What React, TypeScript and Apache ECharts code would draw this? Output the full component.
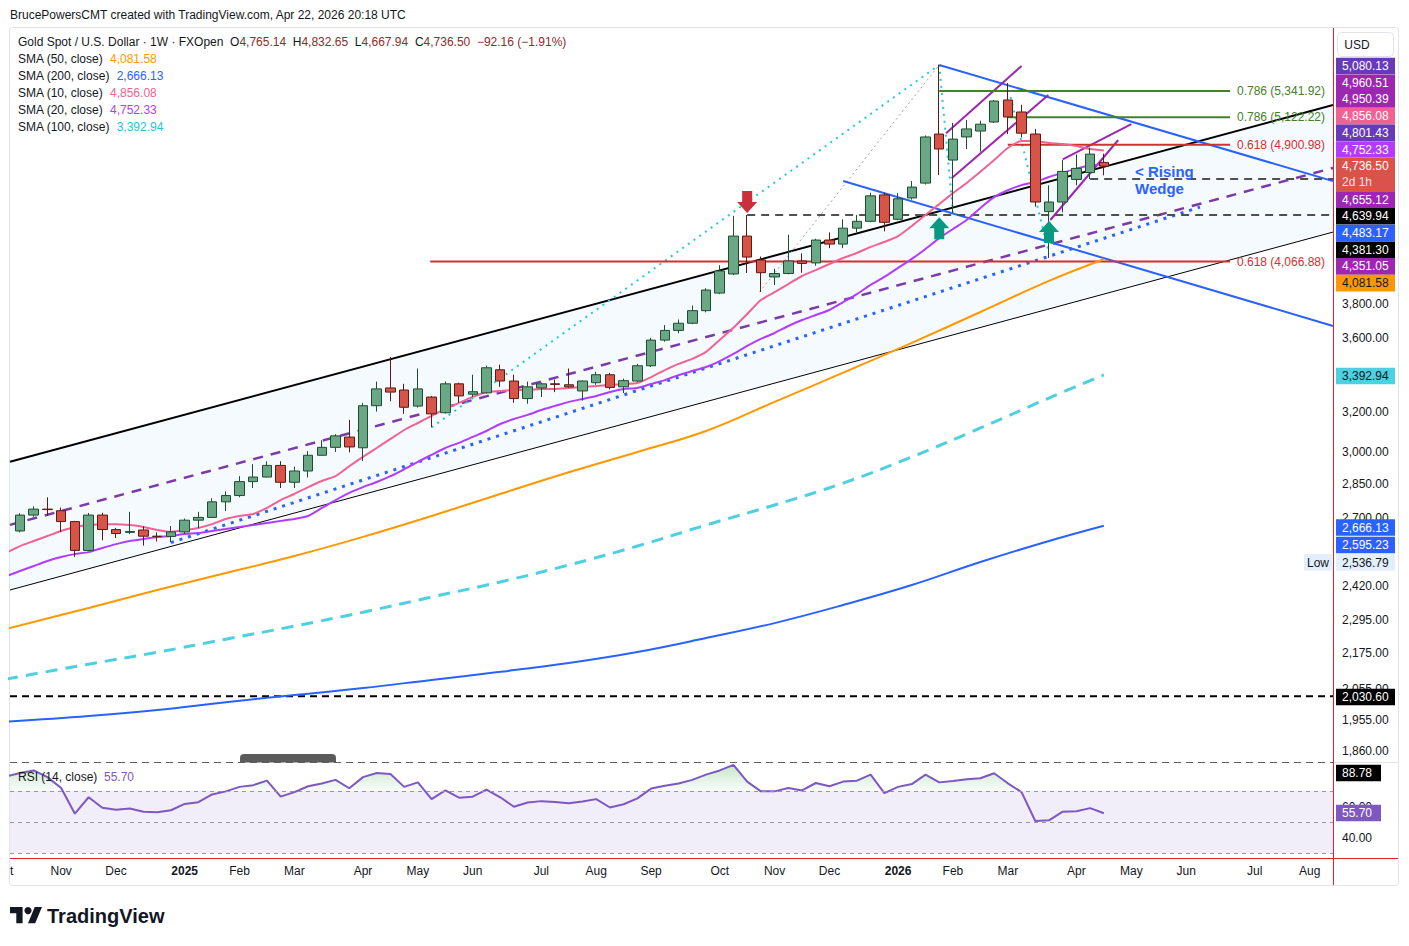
import React, { useEffect, useRef } from "react";
import * as echarts from "echarts";

const FF = '"Liberation Sans", Arial, sans-serif';
const INK = "#131722";

// ---------------- axis extents ----------------
const XMIN = -0.729; // week index at left plot edge
const XMAX = 95.7; // week index at right plot edge
const PMIN = 1827.7;
const PMAX = 5907;
const RMIN = 26.8;
const RMAX = 88.75;

// ---------------- weekly candles: week 0 = 14 Oct 2024 ... week 79 = 20 Apr 2026 ----------------
// [open, high, low, close]
const ohlc: number[][] = [
  [2644, 2720, 2638, 2712], [2712, 2750, 2705, 2738], [2738, 2790, 2710, 2736], [2731, 2745, 2640, 2684],
  [2684, 2687, 2536.79, 2563], [2563, 2721, 2560, 2712], [2712, 2722, 2605, 2650], [2650, 2657, 2614, 2633],
  [2638, 2726, 2631, 2642], [2648, 2664, 2583, 2622], [2622, 2638, 2600, 2621], [2621, 2665, 2597, 2640],
  [2640, 2697, 2633, 2690], [2690, 2726, 2656, 2702], [2702, 2786, 2699, 2770], [2770, 2817, 2730, 2798],
  [2798, 2886, 2790, 2861], [2861, 2942, 2832, 2882], [2882, 2955, 2880, 2936], [2936, 2956, 2832, 2858],
  [2858, 2930, 2832, 2910], [2910, 3004, 2880, 2984], [2984, 3057, 2982, 3022], [3022, 3086, 3000, 3078],
  [3072, 3158, 2998, 3024], [3020, 3245, 2957, 3230], [3230, 3357, 3200, 3318], [3323, 3491, 3253, 3301],
  [3312, 3345, 3188, 3222], [3228, 3428, 3220, 3318], [3275, 3281, 3120, 3188], [3194, 3357, 3190, 3345],
  [3345, 3351, 3245, 3281], [3290, 3394, 3276, 3303], [3297, 3443, 3293, 3432], [3421, 3449, 3329, 3360],
  [3360, 3394, 3245, 3267], [3267, 3357, 3240, 3329], [3323, 3351, 3275, 3345], [3345, 3368, 3301, 3342],
  [3340, 3428, 3324, 3329], [3307, 3363, 3256, 3360], [3351, 3410, 3340, 3394], [3394, 3404, 3315, 3326],
  [3329, 3373, 3296, 3362], [3360, 3453, 3355, 3443], [3443, 3600, 3436, 3587], [3587, 3674, 3578, 3643],
  [3643, 3707, 3627, 3685], [3685, 3791, 3680, 3760], [3760, 3897, 3750, 3886], [3867, 4043, 3860, 4006],
  [3987, 4375, 3980, 4236], [4236, 4381.3, 3993, 4096], [4077, 4100, 3874, 3995], [3968, 4020, 3917, 3990],
  [3990, 4245, 3985, 4071], [4071, 4120, 3995, 4055], [4058, 4218, 4040, 4209], [4209, 4261, 4155, 4182],
  [4182, 4351, 4155, 4290], [4290, 4381, 4261, 4337], [4337, 4540, 4330, 4517], [4524, 4540, 4268, 4330],
  [4351, 4537, 4345, 4496], [4502, 4625, 4490, 4581], [4610, 4975, 4600, 4963], [4986, 5568, 4670, 4868],
  [4783, 5075, 4395, 4946], [4963, 5100, 4868, 5027], [5010, 5094, 4848, 5065], [5083, 5265, 5075, 5256],
  [5265, 5410, 4986, 5124], [5165, 5225, 4960, 4993], [4986, 5027, 4440, 4473], [4405, 4594, 4090, 4473],
  [4473, 4783, 4400, 4697], [4637, 4826, 4594, 4720], [4688, 4880, 4640, 4828.66], [4765.14, 4832.65, 4667.94, 4736.5],
];

// moving averages, weekly values starting at week -1
const sma10: number[] = [
  2553, 2581, 2602, 2623, 2644, 2661, 2669, 2673, 2673, 2669, 2661, 2648, 2640, 2648, 2657, 2673, 2695, 2708,
  2717, 2743, 2778, 2805, 2836, 2864, 2886, 2932, 2976, 3019, 3063, 3107, 3142, 3178, 3214, 3245, 3276, 3302,
  3307, 3312, 3312, 3318, 3318, 3323, 3328, 3333, 3339, 3344, 3349, 3381, 3419, 3453, 3481, 3520, 3588, 3658,
  3740, 3824, 3873, 3923, 3974, 4012, 4051, 4090, 4123, 4163, 4196, 4236, 4305, 4381, 4458, 4537, 4611, 4694,
  4783, 4876, 4931, 4931, 4915, 4907, 4892, 4868, 4856.08,
];
const sma20: number[] = [
  2460, 2480, 2500, 2520, 2536, 2548, 2556, 2573, 2589, 2602, 2610, 2619, 2623, 2631, 2635, 2644, 2652, 2661,
  2669, 2678, 2687, 2695, 2708, 2743, 2778, 2810, 2836, 2859, 2886, 2918, 2953, 2986, 3019, 3044, 3073, 3102,
  3137, 3162, 3183, 3208, 3229, 3250, 3265, 3281, 3302, 3318, 3323, 3344, 3365, 3392, 3414, 3436, 3469, 3509,
  3554, 3594, 3628, 3669, 3704, 3734, 3764, 3812, 3861, 3918, 3968, 4026, 4084, 4149, 4222, 4284, 4346, 4431,
  4508, 4558, 4595, 4618, 4655, 4686, 4718, 4741, 4752.33,
];
// [week, value] readings of the slow averages
const sma50: number[][] = [
  [-1, 2261], [5, 2338], [10, 2406], [15, 2472], [20, 2540], [25, 2619], [30, 2708], [35, 2805], [40, 2904],
  [45, 3000], [50, 3102], [55, 3250], [60, 3405], [65, 3571], [70, 3752], [75, 3943], [79, 4081.58],
];
const sma100: number[][] = [
  [-1, 2087], [5, 2137], [10, 2178], [15, 2224], [20, 2271], [25, 2322], [30, 2379], [35, 2437], [40, 2504],
  [45, 2581], [50, 2669], [55, 2756], [60, 2854], [65, 2976], [70, 3117], [75, 3270], [79, 3392.94],
];
const sma200: number[][] = [
  [-1, 1949], [5, 1967], [10, 1986], [15, 2011], [20, 2034], [25, 2057], [30, 2084], [35, 2111], [40, 2141],
  [45, 2179], [50, 2228], [55, 2282], [60, 2349], [65, 2425], [70, 2516], [75, 2602], [79, 2666.13],
];
// RSI(14), weekly values starting at week -1
const rsi14: number[] = [
  79.5, 81.7, 83.3, 79.0, 72.0, 55.4, 66.0, 59.2, 57.9, 58.8, 56.7, 56.3, 57.6, 61.7, 62.8, 67.8, 69.8, 72.7,
  73.8, 76.7, 66.4, 69.3, 73.1, 74.9, 77.2, 71.8, 79.0, 81.7, 81.0, 72.7, 75.6, 64.8, 70.4, 65.7, 66.4, 70.9,
  66.0, 59.9, 62.6, 63.5, 63.0, 62.1, 63.3, 64.8, 59.4, 61.5, 65.3, 71.6, 73.4, 74.9, 77.2, 80.6, 83.3, 86.9,
  76.1, 69.8, 69.8, 72.0, 70.4, 75.2, 73.1, 76.1, 76.7, 80.6, 68.7, 72.7, 74.5, 80.6, 75.6, 76.5, 77.6, 78.3,
  81.5, 75.0, 69.3, 50.7, 51.1, 56.7, 57.0, 59.0, 55.7,
];

// time-axis labels: [week index, label]
const monthLabels: [number, string][] = [
  [3, "Nov"], [7, "Dec"], [12, "2025"], [16, "Feb"], [20, "Mar"], [25, "Apr"], [29, "May"], [33, "Jun"],
  [38, "Jul"], [42, "Aug"], [46, "Sep"], [51, "Oct"], [55, "Nov"], [59, "Dec"], [64, "2026"], [68, "Feb"],
  [72, "Mar"], [77, "Apr"], [81, "May"], [85, "Jun"], [90, "Jul"], [94, "Aug"],
];
const priceTicks = [3800, 3600, 3200, 3000, 2850, 2700, 2420, 2295, 2175, 2055, 1955, 1860];
const rsiTicks = [60, 40];
const RSI_OB = 70;

// drawn trend lines, in [week, price] coordinates
const channelUpper = [[XMIN, 2953], [XMAX, 5223]];
const channelMid = [[XMIN, 2670], [XMAX, 4723]];
const channelLower = [[XMIN, 2406], [XMAX, 4263]];
const blueDotted = [[11, 2595.23], [86, 4437]];
const cyanDotted = [
  [[30, 3120], [67, 5568]],
  [[67, 5568], [68, 4400]],
  [[72.2, 5290], [75, 4120]],
];
const greyDotted = [[53.9, 3873], [67, 5568]];
const blueUpper = [[67, 5568], [XMAX, 4625]];
const blueLower = [[60, 4626], [XMAX, 3669]];
const wedgeLines = [
  [[67.5, 4992], [73, 5559]],
  [[67.9, 4646], [74.95, 5307]],
  [[76, 4788], [81, 5066]],
  [[75.1, 4346], [80.05, 4939]],
];
// horizontal levels: [price, from week, to week]
const fibGreen = [[5341.92, 67, 88.2], [5122.22, 72, 88.2]];
const fibRed = [[4900.98, 72, 88.2], [4066.88, 29.9, 88.2]];
const dashedLevels = [[4381.3, 53, XMAX], [4639.94, 78, XMAX]];
const blackDashed = [[2030.6, XMIN, XMAX]];
const fibTexts: [number, string, string][] = [
  [5341.92, "0.786 (5,341.92)", "g"],
  [5122.22, "0.786 (5,122.22)", "g"],
  [4900.98, "0.618 (4,900.98)", "r"],
  [4066.88, "0.618 (4,066.88)", "r"],
];
// arrows: [week, price, direction]
const arrows = [[53, 4473, -1], [67, 4290, 1], [75, 4263, 1]];

// right-scale badges (stacked like the original scale)
const topBadges: [string, string, string][] = [
  ["5,080.13", "#673ab7", "#ffffff"],
  ["4,960.51", "#9c27b0", "#ffffff"],
  ["4,950.39", "#9c27b0", "#ffffff"],
  ["4,856.08", "#f06292", "#ffffff"],
  ["4,801.43", "#673ab7", "#ffffff"],
  ["4,752.33", "#b23cfd", "#ffffff"],
  ["4,736.50", "#d9534a", "#ffffff"],
  ["4,655.12", "#9c27b0", "#ffffff"],
  ["4,639.94", "#000000", "#ffffff"],
  ["4,483.17", "#2962ff", "#ffffff"],
  ["4,381.30", "#000000", "#ffffff"],
  ["4,351.05", "#9c27b0", "#ffffff"],
  ["4,081.58", "#ff9800", "#131722"],
];

echarts.graphic.registerShape(
  "tvlogo",
  echarts.graphic.extendPath("M14 22H7V11H0V4h14v18zM28 22h-8l7.5-18h8L28 22z", {})
);

const GREEN = "#43802a";
const RED = "#d32f2f";

function lineSer(data: number[][], color: string, width: number, type: any, z = 3, extra: any = {}) {
  return {
    type: "line",
    xAxisIndex: 0,
    yAxisIndex: 0,
    data,
    symbol: "none",
    showSymbol: false,
    silent: true,
    clip: true,
    z,
    lineStyle: { color, width, type, cap: "butt" },
    ...extra,
  };
}

function txtEl(x: number, y: number, text: string, fill: string, size = 12, weight: any = "normal", align = "left", z = 100) {
  return {
    type: "text",
    x,
    y,
    z,
    style: {
      text,
      fill,
      fontSize: size,
      fontFamily: FF,
      fontWeight: weight,
      align,
      verticalAlign: "middle",
      textAlign: align,
      textVerticalAlign: "middle",
    },
  };
}

function plainText(x: number, y: number, text: string, fill: string, size = 12, weight: any = "normal", align = "left") {
  const t: any = txtEl(x, y, text, fill, size, weight, align);
  delete t.z;
  return t;
}

function buildOption() {
  const series: any[] = [];

  // channel fill
  series.push({
    type: "custom",
    xAxisIndex: 0,
    yAxisIndex: 0,
    silent: true,
    z: 1,
    data: [[0, 3000]],
    renderItem: (_p: any, api: any) => {
      const pts = [
        api.coord(channelUpper[0]),
        api.coord(channelUpper[1]),
        api.coord(channelLower[1]),
        api.coord(channelLower[0]),
      ];
      return { type: "polygon", shape: { points: pts }, style: { fill: "rgba(33,150,243,0.045)" } };
    },
  });

  series.push(lineSer(channelUpper, "#000000", 2, "solid"));
  series.push(lineSer(channelLower, "#000000", 1, "solid"));
  series.push(lineSer(channelMid, "#7b3aa8", 2.5, [10, 8]));
  series.push(lineSer(blueDotted, "#2962ff", 3, [3, 6]));
  cyanDotted.forEach((d) => series.push(lineSer(d, "#26c6da", 2, [2, 5])));
  series.push(lineSer(greyDotted, "#a0a0a0", 1, [2, 3]));
  series.push(lineSer(blueUpper, "#2962ff", 2, "solid"));
  series.push(lineSer(blueLower, "#2962ff", 2, "solid"));
  wedgeLines.forEach((d) => series.push(lineSer(d, "#9c27b0", 2, "solid")));
  fibGreen.forEach((l) => series.push(lineSer([[l[1], l[0]], [l[2], l[0]]], GREEN, 2, "solid")));
  fibRed.forEach((l) => series.push(lineSer([[l[1], l[0]], [l[2], l[0]]], RED, 2, "solid")));
  dashedLevels.forEach((l) => series.push(lineSer([[l[1], l[0]], [l[2], l[0]]], "#505050", 2, [8, 6])));
  blackDashed.forEach((l) => series.push(lineSer([[l[1], l[0]], [l[2], l[0]]], "#000000", 2, [7, 5])));

  // moving averages
  series.push(lineSer(sma200, "#2962ff", 2, "solid", 4, { smooth: 0.4 }));
  series.push(lineSer(sma100, "#4dd0e1", 3, [12, 8], 4, { smooth: 0.4 }));
  series.push(lineSer(sma50, "#ff9800", 2, "solid", 4, { smooth: 0.4 }));
  series.push(lineSer(sma20.map((v, i) => [i - 1, v]), "#b23cfd", 2, "solid", 4, { smooth: 0.2 }));
  series.push(lineSer(sma10.map((v, i) => [i - 1, v]), "#f06292", 2, "solid", 4, { smooth: 0.2 }));

  // candles
  series.push({
    type: "candlestick",
    xAxisIndex: 0,
    yAxisIndex: 0,
    silent: true,
    z: 5,
    barWidth: 10,
    data: ohlc.map((d, i) => [i, d[0], d[3], d[2], d[1]]),
    encode: { x: 0, y: [1, 2, 3, 4] },
    itemStyle: {
      color: "#6aa784",
      color0: "#d65448",
      borderColor: "#1f4d30",
      borderColor0: "#5e1a14",
      borderWidth: 1,
    },
  });

  // arrows
  series.push({
    type: "custom",
    xAxisIndex: 0,
    yAxisIndex: 0,
    silent: true,
    z: 6,
    data: arrows.map((a) => [a[0], a[1]]),
    renderItem: (p: any, api: any) => {
      const dir = arrows[p.dataIndex][2];
      const c = api.coord([api.value(0), api.value(1)]);
      const cx = c[0];
      const cy = c[1];
      const s = dir;
      const pts = [
        [cx - 5, cy + 11 * s],
        [cx + 5, cy + 11 * s],
        [cx + 5, cy],
        [cx + 10, cy],
        [cx, cy - 11 * s],
        [cx - 10, cy],
        [cx - 5, cy],
      ];
      return { type: "polygon", shape: { points: pts }, style: { fill: dir < 0 ? "#cc2f3c" : "#089981" } };
    },
  });

  // annotation texts (fib labels + pattern name)
  const annos: any[] = fibTexts.map((f) => ({ k: 88.7, p: f[0], text: f[1], color: f[2] === "g" ? GREEN : RED, size: 12, weight: "normal" }));
  annos.push({ k: 81.27, p: 4693, text: "< Rising", color: "#2962ff", size: 15, weight: "bold" });
  annos.push({ k: 81.27, p: 4574, text: "Wedge", color: "#2962ff", size: 15, weight: "bold" });
  series.push({
    type: "custom",
    xAxisIndex: 0,
    yAxisIndex: 0,
    silent: true,
    clip: false,
    z: 7,
    data: annos.map((a) => [a.k, a.p]),
    renderItem: (p: any, api: any) => {
      const a = annos[p.dataIndex];
      const c = api.coord([api.value(0), api.value(1)]);
      return plainText(c[0], c[1], a.text, a.color, a.size, a.weight, "left");
    },
  });

  // price scale labels
  series.push({
    type: "custom",
    xAxisIndex: 0,
    yAxisIndex: 0,
    silent: true,
    clip: false,
    z: 2,
    data: priceTicks.map((v) => [XMAX, v]),
    renderItem: (p: any, api: any) => {
      const c = api.coord([XMAX, api.value(1)]);
      const v = priceTicks[p.dataIndex];
      return plainText(c[0] + 9, c[1], v.toLocaleString("en-US", { minimumFractionDigits: 2, maximumFractionDigits: 2 }), INK);
    },
  });

  // RSI overbought fill (area between the RSI line and the 70 level, where above it)
  series.push({
    type: "custom",
    xAxisIndex: 1,
    yAxisIndex: 1,
    silent: true,
    clip: true,
    z: 2,
    data: [[0, RSI_OB]],
    renderItem: (_p: any, api: any) => {
      const pts = rsi14.map((r, i) => [i - 1, r]);
      const polys: number[][][] = [];
      let cur: number[][] | null = null;
      for (let i = 0; i < pts.length; i++) {
        const [x, r] = pts[i];
        if (r >= RSI_OB) {
          if (!cur) {
            cur = [];
            if (i > 0) {
              const [x0, r0] = pts[i - 1];
              const t = (RSI_OB - r0) / (r - r0);
              cur.push([x0 + t * (x - x0), RSI_OB]);
            } else {
              cur.push([x, RSI_OB]);
            }
          }
          cur.push([x, r]);
        } else if (cur) {
          const [x0, r0] = pts[i - 1];
          const t = (RSI_OB - r0) / (r - r0);
          cur.push([x0 + t * (x - x0), RSI_OB]);
          polys.push(cur);
          cur = null;
        }
      }
      if (cur) {
        cur.push([cur[cur.length - 1][0], RSI_OB]);
        polys.push(cur);
      }
      const top = api.coord([0, RMAX])[1];
      const base = api.coord([0, RSI_OB])[1];
      const fill = new echarts.graphic.LinearGradient(
        0, top, 0, base,
        [
          { offset: 0, color: "rgba(76,175,80,0.34)" },
          { offset: 1, color: "rgba(76,175,80,0.03)" },
        ],
        true
      );
      return {
        type: "group",
        children: polys.map((poly) => ({
          type: "polygon",
          shape: { points: poly.map((q) => api.coord(q)) },
          style: { fill },
        })),
      };
    },
  });

  series.push({
    type: "line",
    xAxisIndex: 1,
    yAxisIndex: 1,
    silent: true,
    symbol: "none",
    clip: true,
    data: rsi14.map((r, i) => [i - 1, r]),
    lineStyle: { color: "#7e57c2", width: 2 },
    z: 3,
    markArea: {
      silent: true,
      itemStyle: { color: "rgba(126,87,194,0.1)" },
      data: [[{ yAxis: 30 }, { yAxis: 70 }]],
    },
    markLine: {
      silent: true,
      symbol: ["none", "none"],
      label: { show: false },
      lineStyle: { color: "#9598a1", type: [4, 4], width: 1 },
      data: [{ yAxis: 70 }, { yAxis: 50 }, { yAxis: 30 }],
    },
  });

  // time labels
  series.push({
    type: "custom",
    xAxisIndex: 1,
    yAxisIndex: 1,
    silent: true,
    clip: false,
    data: monthLabels.map((m) => [m[0], RMIN]),
    renderItem: (p: any, api: any) => {
      const m = monthLabels[p.dataIndex];
      const c = api.coord([api.value(0), RMIN]);
      const isYear = /^\d{4}$/.test(m[1]);
      return plainText(c[0], c[1] + 13, m[1], INK, 12, isYear ? "bold" : "normal", "center");
    },
  });

  // RSI scale labels
  series.push({
    type: "custom",
    xAxisIndex: 1,
    yAxisIndex: 1,
    silent: true,
    clip: false,
    data: rsiTicks.map((v) => [XMAX, v]),
    renderItem: (p: any, api: any) => {
      const c = api.coord([XMAX, api.value(1)]);
      return plainText(c[0] + 9, c[1], rsiTicks[p.dataIndex].toFixed(2), INK);
    },
  });

  // ---------- graphic overlay ----------
  const g: any[] = [];
  g.push({ type: "rect", z: 0, shape: { x: 9.5, y: 27.5, width: 1389, height: 858, r: 3 }, style: { fill: "none", stroke: "#e0e3eb", lineWidth: 1 } });
  g.push({ type: "line", z: 90, shape: { x1: 10, y1: 762.5, x2: 1333, y2: 762.5 }, style: { stroke: "#5d606b", lineWidth: 1.2, lineDash: [7, 5] } });
  g.push({ type: "line", z: 90, shape: { x1: 1333, y1: 762.5, x2: 1398, y2: 762.5 }, style: { stroke: "#e0e3eb", lineWidth: 1 } });
  g.push({ type: "line", z: 95, shape: { x1: 1333.5, y1: 28, x2: 1333.5, y2: 885 }, style: { stroke: "#e0202a", lineWidth: 1 } });
  g.push({ type: "line", z: 95, shape: { x1: 10, y1: 858.5, x2: 1398, y2: 858.5 }, style: { stroke: "#e0202a", lineWidth: 1 } });
  g.push({ type: "rect", z: 95, shape: { x: 240, y: 754, width: 96, height: 8.5, r: [4, 4, 0, 0] }, style: { fill: "#5b5b5b" } });

  // header
  g.push(txtEl(10, 15, "BrucePowersCMT created with TradingView.com, Apr 22, 2026 20:18 UTC", INK));
  const vc = "#8b2d2d";
  g.push({
    type: "text",
    x: 18,
    y: 42,
    z: 100,
    style: {
      text:
        "{n|Gold Spot / U.S. Dollar · 1W · FXOpen}  {n|O}{v|4,765.14}  {n|H}{v|4,832.65}  {n|L}{v|4,667.94}  {n|C}{v|4,736.50}  {v|−92.16 (−1.91%)}",
      fontSize: 12,
      fontFamily: FF,
      fill: INK,
      verticalAlign: "middle",
      textVerticalAlign: "middle",
      rich: {
        n: { fill: INK, fontSize: 12, fontFamily: FF },
        v: { fill: vc, fontSize: 12, fontFamily: FF },
      },
    },
  });
  const smaLegend: [string, string, string][] = [
    ["SMA (50, close)", "4,081.58", "#ff9800"],
    ["SMA (200, close)", "2,666.13", "#2962ff"],
    ["SMA (10, close)", "4,856.08", "#f06292"],
    ["SMA (20, close)", "4,752.33", "#b23cfd"],
    ["SMA (100, close)", "3,392.94", "#26c6da"],
  ];
  smaLegend.forEach((s, i) => {
    g.push({
      type: "text",
      x: 18,
      y: 59 + i * 17,
      z: 100,
      style: {
        text: `{n|${s[0]}}  {v|${s[1]}}`,
        fontSize: 12,
        fontFamily: FF,
        verticalAlign: "middle",
        textVerticalAlign: "middle",
        rich: { n: { fill: INK, fontSize: 12, fontFamily: FF }, v: { fill: s[2], fontSize: 12, fontFamily: FF } },
      },
    });
  });

  g.push({
    type: "text",
    x: 18,
    y: 777,
    z: 100,
    style: {
      text: "{n|RSI (14, close)}  {v|55.70}",
      fontSize: 12,
      fontFamily: FF,
      verticalAlign: "middle",
      textVerticalAlign: "middle",
      rich: { n: { fill: INK, fontSize: 12, fontFamily: FF }, v: { fill: "#7e57c2", fontSize: 12, fontFamily: FF } },
    },
  });

  g.push({ type: "rect", z: 100, shape: { x: 1337.5, y: 32.5, width: 56, height: 24, r: 4 }, style: { fill: "#ffffff", stroke: "#e0e3eb", lineWidth: 1 } });
  g.push(txtEl(1357, 44.5, "USD", INK, 12, "normal", "center"));

  let slot = 0;
  topBadges.forEach((b) => {
    const yc = 66 + slot * 16.7;
    if (b[0] === "4,736.50") {
      g.push({ type: "rect", z: 99, shape: { x: 1336, y: yc - 8.3, width: 59, height: 33.4 }, style: { fill: b[1] } });
      g.push(txtEl(1342, yc, b[0], b[2]));
      g.push(txtEl(1342, yc + 15.5, "2d 1h", "rgba(255,255,255,0.85)"));
      slot += 2;
    } else {
      g.push({ type: "rect", z: 99, shape: { x: 1336, y: yc - 8.3, width: 59, height: 16.6 }, style: { fill: b[1] } });
      g.push(txtEl(1342, yc, b[0], b[2]));
      slot += 1;
    }
  });
  const lowBadges: [number, string, string, string, number][] = [
    [376, "3,392.94", "#4dd0e1", INK, 59],
    [527.5, "2,666.13", "#2962ff", "#ffffff", 59],
    [545, "2,595.23", "#2962ff", "#ffffff", 59],
    [562.5, "2,536.79", "#e3effd", INK, 59],
    [697, "2,030.60", "#000000", "#ffffff", 59],
    [773, "88.78", "#000000", "#ffffff", 45],
    [813, "55.70", "#7e57c2", "#ffffff", 45],
  ];
  lowBadges.forEach((b) => {
    g.push({ type: "rect", z: 99, shape: { x: 1336, y: b[0] - 8.3, width: b[4], height: 16.6 }, style: { fill: b[2] } });
    g.push(txtEl(1342, b[0], b[1], b[3]));
  });
  g.push({ type: "rect", z: 99, shape: { x: 1304, y: 554, width: 28, height: 16.6 }, style: { fill: "#e3effd" } });
  g.push(txtEl(1318, 562.5, "Low", INK, 12, "normal", "center"));
  g.push(txtEl(10, 871, "t", INK));

  g.push({ type: "tvlogo", z: 100, x: 10, y: 903.4, scaleX: 0.9, scaleY: 0.9, style: { fill: INK } });
  g.push({ type: "circle", z: 100, shape: { cx: 10 + 20 * 0.9, cy: 903.4 + 8 * 0.9, r: 3.6 }, style: { fill: INK } });
  g.push(txtEl(47, 916, "TradingView", INK, 20, "bold"));

  return {
    animation: false,
    backgroundColor: "#ffffff",
    grid: [
      { left: 10, top: 28, width: 1323, height: 734 },
      { left: 10, top: 762, width: 1323, height: 96 },
    ],
    xAxis: [
      { type: "value", gridIndex: 0, min: XMIN, max: XMAX, show: false },
      { type: "value", gridIndex: 1, min: XMIN, max: XMAX, show: false },
    ],
    yAxis: [
      { type: "log", logBase: 10, gridIndex: 0, min: PMIN, max: PMAX, show: false },
      { type: "value", gridIndex: 1, min: RMIN, max: RMAX, show: false },
    ],
    series,
    graphic: { elements: g },
  };
}

export default function App() {
  const ref = useRef<HTMLDivElement>(null);
  useEffect(() => {
    document.body.style.margin = "0";
    const chart = echarts.init(ref.current!, null, { renderer: "svg" });
    chart.setOption(buildOption() as any);
    return () => chart.dispose();
  }, []);
  return <div ref={ref} style={{ width: 1409, height: 946 }} />;
}
